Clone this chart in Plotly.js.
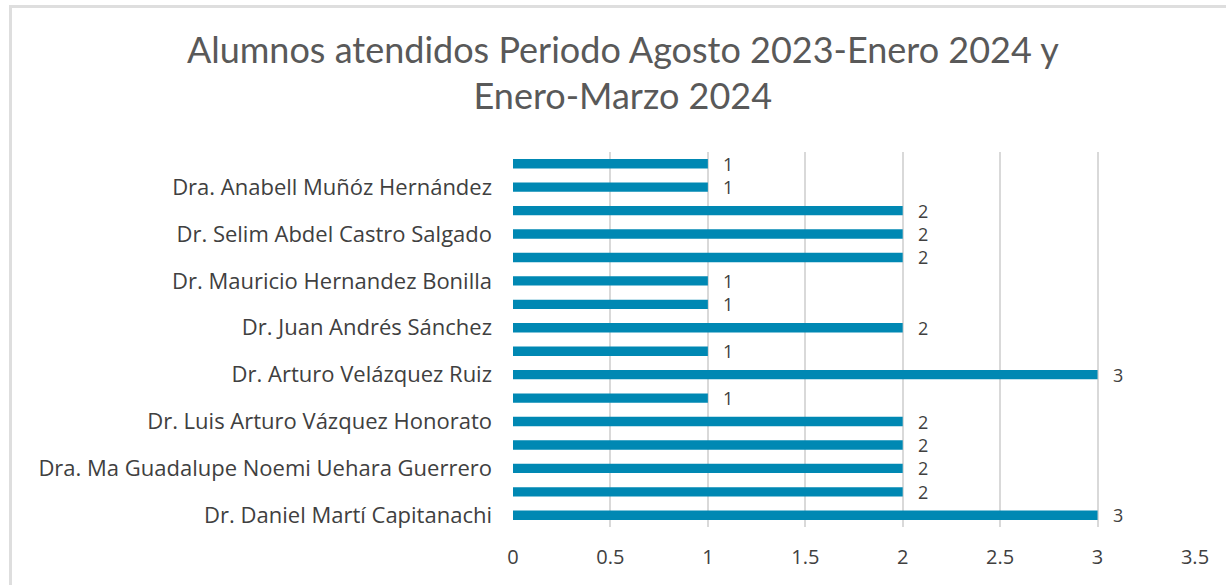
<!DOCTYPE html>
<html>
<head>
<meta charset="utf-8">
<script src="https://cdn.plot.ly/plotly-3.0.1.min.js"></script>
<style>
  html, body { margin: 0; padding: 0; background: #ffffff; }
  #chart { width: 1226px; height: 585px; }
</style>
</head>
<body>
<div id="chart"></div>
<script>
// Bars listed bottom to top; empty label = category whose tick label is not shown
const labels = [
  "Dr. Daniel Martí Capitanachi",
  "",
  "Dra. Ma Guadalupe Noemi Uehara Guerrero",
  "",
  "Dr. Luis Arturo Vázquez Honorato",
  "",
  "Dr. Arturo Velázquez Ruiz",
  "",
  "Dr. Juan Andrés Sánchez",
  "",
  "Dr. Mauricio Hernandez Bonilla",
  "",
  "Dr. Selim Abdel Castro Salgado",
  "",
  "Dra. Anabell Muñóz Hernández",
  ""
];
const values = [3, 2, 2, 2, 2, 1, 3, 1, 2, 1, 1, 2, 2, 2, 1, 1];
const xTicks = [0, 0.5, 1, 1.5, 2, 2.5, 3, 3.5];

const positions = values.map((v, i) => i);
const tickvals = [], ticktext = [];
labels.forEach((l, i) => { if (l) { tickvals.push(i); ticktext.push(l); } });

const titleFont = "Lato, 'Open Sans', sans-serif";
const font = "'Open Sans', Lato, sans-serif";
const textColor = "#404040";

const trace = {
  type: "bar",
  orientation: "h",
  x: values,
  y: positions,
  marker: { color: "#0088b3" },
  hoverinfo: "x"
};

const annotations = values.map((v, i) => ({
  x: v, y: i, xref: "x", yref: "y",
  text: String(v), showarrow: false,
  xanchor: "left", xshift: 13, yshift: 0,
  font: { family: font, size: 18, color: textColor }
}));

const layout = {
  width: 1226, height: 585,
  margin: { l: 513, r: 31, t: 152, b: 58 },
  paper_bgcolor: "#ffffff",
  plot_bgcolor: "#ffffff",
  bargap: 0.6,
  showlegend: false,
  title: {
    text: "Alumnos atendidos Periodo Agosto 2023-Enero 2024 y<br>Enero-Marzo 2024",
    x: 0.508, xanchor: "center",
    y: 0.893, yanchor: "middle",
    font: { family: titleFont, size: 36, color: "#595959" }
  },
  xaxis: {
    range: [0, 3.5],
    tickvals: xTicks,
    ticktext: xTicks.map(String),
    showgrid: true, gridcolor: "#d9d9d9", gridwidth: 2,
    zeroline: false, showline: false,
    ticks: "", ticklabelstandoff: 16,
    tickfont: { family: font, size: 20, color: textColor },
    fixedrange: true
  },
  yaxis: {
    range: [-0.5, 15.5],
    tickvals: tickvals, ticktext: ticktext,
    showgrid: false, zeroline: false, showline: false,
    ticks: "", ticklabelstandoff: 20,
    tickfont: { family: font, size: 22, color: textColor },
    fixedrange: true
  },
  annotations: annotations,
  shapes: [
    { type: "line", xref: "paper", yref: "paper",
      x0: (10 - 513) / 682, x1: (1226 - 513) / 682,
      y0: (527 - 6.5) / 375, y1: (527 - 6.5) / 375,
      line: { color: "#dedede", width: 3 } },
    { type: "line", xref: "paper", yref: "paper",
      x0: (10.5 - 513) / 682, x1: (10.5 - 513) / 682,
      y0: (527 - 5) / 375, y1: (527 - 600) / 375,
      line: { color: "#dedede", width: 3 } }
  ]
};

Plotly.newPlot("chart", [trace], layout, { displayModeBar: false, staticPlot: true });
</script>
</body>
</html>
